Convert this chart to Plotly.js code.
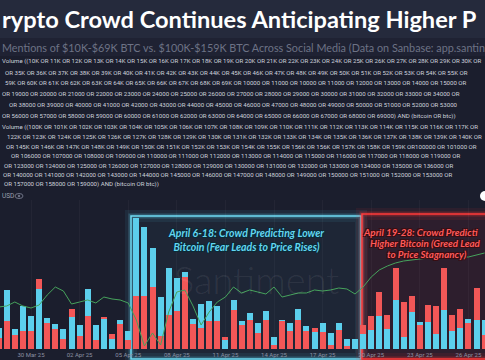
<!DOCTYPE html>
<html><head><meta charset="utf-8">
<script src="https://cdn.plot.ly/plotly-3.0.1.min.js"></script>
<style>html,body{margin:0;padding:0;background:#1b1e2d;}#chart{width:485px;height:360px;}</style>
</head><body><div id="chart"></div>
<script>
// ---- data (12-hour buckets) ----
const dates = [
"2025-03-28 00:00","2025-03-28 12:00","2025-03-29 00:00","2025-03-29 12:00","2025-03-30 00:00","2025-03-30 12:00",
"2025-03-31 00:00","2025-03-31 12:00","2025-04-01 00:00","2025-04-01 12:00","2025-04-02 00:00","2025-04-02 12:00",
"2025-04-03 00:00","2025-04-03 12:00","2025-04-04 00:00","2025-04-04 12:00","2025-04-05 00:00","2025-04-05 12:00",
"2025-04-06 00:00","2025-04-06 12:00","2025-04-07 00:00","2025-04-07 12:00","2025-04-08 00:00","2025-04-08 12:00",
"2025-04-09 00:00","2025-04-09 12:00","2025-04-10 00:00","2025-04-10 12:00","2025-04-11 00:00","2025-04-11 12:00",
"2025-04-12 00:00","2025-04-12 12:00","2025-04-13 00:00","2025-04-13 12:00","2025-04-14 00:00","2025-04-14 12:00",
"2025-04-15 00:00","2025-04-15 12:00","2025-04-16 00:00","2025-04-16 12:00","2025-04-17 00:00","2025-04-17 12:00",
"2025-04-18 00:00","2025-04-18 12:00","2025-04-19 00:00","2025-04-19 12:00","2025-04-20 00:00","2025-04-20 12:00",
"2025-04-21 00:00","2025-04-21 12:00","2025-04-22 00:00","2025-04-22 12:00","2025-04-23 00:00","2025-04-23 12:00",
"2025-04-24 00:00","2025-04-24 12:00","2025-04-25 00:00","2025-04-25 12:00","2025-04-26 00:00","2025-04-26 12:00",
"2025-04-27 00:00"];
// mentions of $10K-$69K BTC (blue)
const lowMentions = [213,593,200,426,333,600,310,250,200,320,243,600,243,300,100,293,180,
1310,1220,1010,516,810,710,773,300,450,476,433,93,493,276,360,260,383,120,293,260,400,226,173,260,160,260,100,100,
150,193,333,200,486,120,370,270,270,153,393,176,210,300,293,293];
// mentions of $100K-$159K BTC (red)
const highMentions = [113,276,143,176,176,703,260,200,100,400,133,333,93,320,150,253,93,
533,533,616,126,336,383,723,250,210,283,276,116,386,243,286,160,286,43,276,176,286,176,210,166,43,193,30,0,
236,333,570,343,813,466,533,236,443,433,813,343,400,260,610,143];
// BTC price (USD)
const btcPrice = [84440,84650,85460,84650,84240,84850,86880,88500,87690,85050,85460,85870,85260,86470,86070,85870,85260,
81810,76530,79170,76730,83430,87490,87900,84650,80790,83430,85460,86470,88500,87290,87900,87490,87080,88500,86470,
86880,87290,87290,87900,87690,87900,88300,88100,87080,88500,90530,91960,92770,93380,93780,93990,94190,94390,94800,
95000,94800,94590,94590,95000,95410];

// visible text of the (cropped) screenshot
const titleText = "rypto Crowd Continues Anticipating Higher P";
const subtitleText = "Mentions of $10K-$69K BTC vs. $100K-$159K BTC Across Social Media (Data on Sanbase: app.santin";
const queryLow = [
"Volume ((10K OR 11K OR 12K OR 13K OR 14K OR 15K OR 16K OR 17K OR 18K OR 19K OR 20K OR 21K OR 22K OR 23K OR 24K OR 25K OR 26K OR 27K OR 28K OR 29K OR 30K OR",
"OR 35K OR 36K OR 37K OR 38K OR 39K OR 40K OR 41K OR 42K OR 43K OR 44K OR 45K OR 46K OR 47K OR 48K OR 49K OR 50K OR 51K OR 52K OR 53K OR 54K OR 55K OR",
"59K OR 60K OR 61K OR 62K OR 63K OR 64K OR 65K OR 66K OR 67K OR 68K OR 69K OR 10000 OR 11000 OR 10000 OR 11000 OR 12000 OR 13000 OR 14000 OR 15000 OR",
"OR 19000 OR 20000 OR 21000 OR 22000 OR 23000 OR 24000 OR 25000 OR 26000 OR 27000 OR 28000 OR 29000 OR 30000 OR 31000 OR 32000 OR 33000 OR 34000 OR",
"OR 38000 OR 39000 OR 40000 OR 41000 OR 42000 OR 43000 OR 44000 OR 45000 OR 46000 OR 47000 OR 48000 OR 49000 OR 50000 OR 51000 OR 52000 OR 53000",
"OR 56000 OR 57000 OR 58000 OR 59000 OR 60000 OR 61000 OR 62000 OR 63000 OR 64000 OR 65000 OR 66000 OR 67000 OR 68000 OR 69000) AND (bitcoin OR btc))"];
const queryHigh = [
"Volume ((100K OR 101K OR 102K OR 103K OR 104K OR 105K OR 106K OR 107K OR 108K OR 109K OR 110K OR 111K OR 112K OR 113K OR 114K OR 115K OR 116K OR 117K OR",
"122K OR 123K OR 124K OR 125K OR 126K OR 127K OR 128K OR 129K OR 130K OR 131K OR 132K OR 133K OR 134K OR 135K OR 136K OR 137K OR 138K OR 139K OR 140K OR",
"OR 145K OR 146K OR 147K OR 148K OR 149K OR 150K OR 151K OR 152K OR 153K OR 154K OR 155K OR 156K OR 156K OR 157K OR 158K OR 159K OR100000 OR 101000 OR",
"OR 106000 OR 107000 OR 108000 OR 109000 OR 110000 OR 111000 OR 112000 OR 113000 OR 114000 OR 115000 OR 116000 OR 117000 OR 118000 OR 119000 OR",
"OR 123000 OR 124000 OR 125000 OR 126000 OR 127000 OR 128000 OR 129000 OR 130000 OR 131000 OR 132000 OR 133000 OR 134000 OR 135000 OR 136000 OR",
"OR 140000 OR 141000 OR 142000 OR 143000 OR 144000 OR 145000 OR 146000 OR 147000 OR 148000 OR 149000 OR 150000 OR 151000 OR 152000 OR 153000 OR",
"OR 157000 OR 158000 OR 159000) AND (bitcoin OR btc))"];
const fearLabel = "April 6-18: Crowd Predicting Lower<br>Bitcoin (Fear Leads to Price Rises)";
const greedLines = ["April 19-28: Crowd Predicti", "Higher Bitcoin (Greed Lead", "to Price Stagnancy)"];

// ---- layout helpers ----
const W = 485, PT = 200, PB = 349;
const px = x => x / W;
const py = y => (PB - y) / (PB - PT);
const BLUE = '#5ccfec', RED = '#f25757', CYAN = '#6fdcf4', GLOWRED = '#ff3a3a';

const tallVals = lowMentions.map((v, i) => Math.max(v, highMentions[i]));
const tallCols = lowMentions.map((v, i) => v >= highMentions[i] ? BLUE : RED);
const shortVals = lowMentions.map((v, i) => Math.min(v, highMentions[i]));
const shortCols = lowMentions.map((v, i) => v >= highMentions[i] ? RED : BLUE);
const barW = 32000000;

const traces = [
  {type:'bar', x:dates, y:tallVals, width:barW, marker:{color:tallCols, line:{width:0}}, hoverinfo:'skip'},
  {type:'bar', x:dates, y:shortVals, width:barW, marker:{color:shortCols, line:{width:0}}, hoverinfo:'skip'},
  {type:'scatter', mode:'lines', x:dates, y:btcPrice, yaxis:'y2', line:{color:'#46a35c', width:1}, hoverinfo:'skip'}
];

const qFont = {family:'Roboto, sans-serif', size:6.1, color:'#cdd1dc'};
const lowY = [61, 72, 83, 94, 105, 116], lowX = [0, 3, 3, 0, 7, 0];
const highY = [127, 136.5, 146, 155.5, 165, 174.5, 184], highX = [0, 5, 4, 9, 2, 1, 2];

const ann = [];
const A = (text, x, y, font, xanchor) => ann.push({text:text, x:px(x), y:py(y), xref:'paper', yref:'paper',
  xanchor:xanchor || 'left', yanchor:'middle', showarrow:false, font:font});
A(titleText, 0, 19, {family:'Lato, sans-serif', size:23.6, color:'#ffffff', weight:'bold'});
A(subtitleText, 0, 47, {family:'Lato, sans-serif', size:10.8, color:'#6d7285'});
queryLow.forEach((t, i) => A(t, lowX[i], lowY[i], qFont));
queryHigh.forEach((t, i) => A(t, highX[i], highY[i], qFont));
A('USD', 0, 196, {family:'Roboto, sans-serif', size:6.5, color:'#9aa0b0'});
A('Santiment', 256, 279, {family:'Lato, sans-serif', size:38, color:'rgba(255,255,255,0.08)', weight:300}, 'center');
const cyanFont = {family:'Lato, sans-serif', size:10.5, color:'#62d6f0', weight:'bold', style:'italic',
  shadow:'1px 1px 0 #0b2a36, -1px -1px 0 #0b2a36, 1px -1px 0 #0b2a36, -1px 1px 0 #0b2a36'};
const redFont = {family:'Lato, sans-serif', size:9.8, color:'#ff5a5a', weight:'bold', style:'italic',
  shadow:'1px 1px 0 #3a0c10, -1px -1px 0 #3a0c10, 1px -1px 0 #3a0c10, -1px 1px 0 #3a0c10'};
ann.push({text:fearLabel, x:px(246), y:py(240), xref:'paper', yref:'paper', xanchor:'center', yanchor:'middle',
  showarrow:false, align:'center', font:cyanFont});
A(greedLines[0], 361, 232, redFont);
A(greedLines[1], 368, 243, redFont);
A(greedLines[2], 385, 254, redFont);

const rect = (x0, y0, x1, y1, extra) => Object.assign({type:'rect', xref:'paper', yref:'paper', x0:px(x0), x1:px(x1), y0:py(y1), y1:py(y0), layer:'below'}, extra);
const shapes = [
  rect(-5, -5, 490, 38, {fillcolor:'#252a3c', line:{width:0}}),
  rect(-5, 38, 490, 56, {fillcolor:'#1f2233', line:{width:0}}),
  // fear box
  rect(131, 216, 361, 359, {fillcolor:'rgba(90,205,235,0.05)', line:{color:'rgba(90,210,240,0.08)', width:12}}),
  rect(131, 216, 361, 359, {fillcolor:'rgba(0,0,0,0)', line:{color:'rgba(90,210,240,0.25)', width:5}}),
  rect(131, 216, 361, 359, {fillcolor:'rgba(0,0,0,0)', line:{color:CYAN, width:1.5}}),
  // greed box
  rect(362, 214, 500, 359, {fillcolor:'rgba(210,40,50,0.10)', line:{color:'rgba(255,50,50,0.08)', width:12}}),
  rect(362, 214, 500, 359, {fillcolor:'rgba(0,0,0,0)', line:{color:'rgba(255,50,50,0.25)', width:5}}),
  rect(362, 214, 500, 359, {fillcolor:'rgba(0,0,0,0)', line:{color:GLOWRED, width:1.5}}),
  // eye icon + toggle dot
  {type:'circle', xref:'paper', yref:'paper', x0:px(15), x1:px(23), y0:py(198.5), y1:py(193.5), line:{color:'#6d7285', width:1}, layer:'above'},
  {type:'circle', xref:'paper', yref:'paper', x0:px(17.8), x1:px(20.2), y0:py(197.2), y1:py(194.8), fillcolor:'#6d7285', line:{width:0}, layer:'above'},
  {type:'circle', xref:'paper', yref:'paper', x0:px(480), x1:px(490), y0:py(201), y1:py(191), fillcolor:'#ffffff', line:{width:0}, layer:'above'}
];

const layout = {
  width:485, height:360,
  margin:{l:0, r:0, t:PT, b:360 - PB},
  paper_bgcolor:'#1b1e2d', plot_bgcolor:'rgba(0,0,0,0)',
  barmode:'overlay', bargap:0, showlegend:false,
  xaxis:{type:'date', range:['2025-03-28 02:04','2025-04-27 00:36'], tickformat:'%d %b %y', dtick:3*86400000, tick0:'2025-03-30',
    ticks:'', showline:false, zeroline:false, showgrid:true, gridcolor:'rgba(255,255,255,0.035)',
    tickfont:{family:'Roboto, sans-serif', size:6, color:'#8b90a2'}, ticklabelstandoff:1},
  yaxis:{range:[0, 1490], visible:false, fixedrange:true},
  yaxis2:{range:[75918, 106165], overlaying:'y', side:'right', visible:false},
  annotations:ann, shapes:shapes
};
Plotly.newPlot('chart', traces, layout, {staticPlot:true, displayModeBar:false});
</script></body></html>
